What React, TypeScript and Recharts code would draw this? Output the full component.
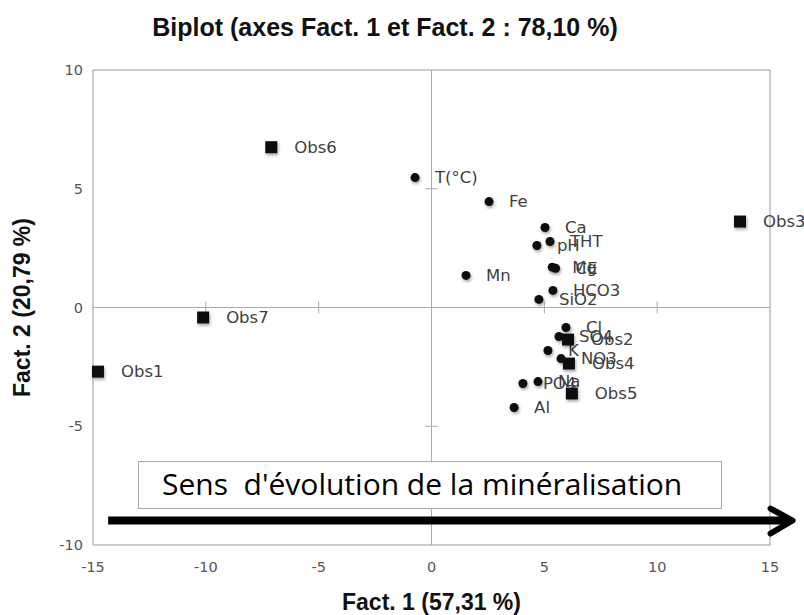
import { ScatterChart, Scatter, XAxis, YAxis, ReferenceLine, Label } from "recharts";

document.body.style.margin = "0";

const obsNames = ["Obs1", "Obs2", "Obs3", "Obs4", "Obs5", "Obs6", "Obs7"];
const obsX = [-14.78, 6.05, 13.67, 6.09, 6.22, -7.1, -10.12];
const obsY = [-2.7, -1.35, 3.62, -2.36, -3.62, 6.75, -0.42];

const varNames = ["T(°C)", "Fe", "Ca", "THT", "pH", "Mg", "CE", "HCO3", "SiO2", "Mn", "Cl", "SO4", "K", "NO3", "PO4", "Na", "Al"];
const varX = [-0.73, 2.55, 5.03, 5.25, 4.67, 5.35, 5.5, 5.38, 4.76, 1.53, 5.96, 5.65, 5.16, 5.74, 4.05, 4.72, 3.66];
const varY = [5.47, 4.46, 3.37, 2.78, 2.61, 1.7, 1.65, 0.72, 0.34, 1.35, -0.84, -1.22, -1.81, -2.15, -3.2, -3.12, -4.21];

const xTicks = [-15, -10, -5, 0, 5, 10, 15];
const yTicks = [-10, -5, 0, 5, 10];
const xMinor = [-10, -5, 5, 10];
const yMinor = [-5, 5];

const obsData = obsNames.map((name, i) => ({ name, x: obsX[i], y: obsY[i] }));
const varData = varNames.map((name, i) => ({ name, x: varX[i], y: varY[i] }));

const labelStyle = { fontFamily: "DejaVu Sans", fontSize: 16.5, fill: "#404040" };
const tickFont = { fontFamily: "DejaVu Sans", fontSize: 14.5, fill: "#555" };

const ObsShape = (props: any) => {
  const { cx, cy, payload } = props;
  return (
    <g>
      <rect x={cx - 6} y={cy - 6} width={12} height={12} fill="#111" filter="url(#shadow)" />
      <text x={cx + 23} y={cy} dominantBaseline="central" style={labelStyle}>{payload.name}</text>
    </g>
  );
};

const VarShape = (props: any) => {
  const { cx, cy, payload } = props;
  return (
    <g>
      <circle cx={cx} cy={cy} r={4.5} fill="#111" filter="url(#shadow)" />
      <text x={cx + 20} y={cy} dominantBaseline="central" style={labelStyle}>{payload.name}</text>
    </g>
  );
};

const XTick = (props: any) => (
  <text x={props.x} y={props.y + 10} textAnchor="middle" dominantBaseline="central" style={tickFont}>
    {props.payload.value}
  </text>
);

const YTick = (props: any) => (
  <text x={props.x + 2} y={props.y} textAnchor="end" dominantBaseline="central" style={tickFont}>
    {props.payload.value}
  </text>
);

const Arrow = (props: any) => {
  const { x1, y1, x2, y2 } = props;
  return (
    <g>
      <line x1={x1} y1={y1} x2={x2 - 6} y2={y2} stroke="#000" strokeWidth={8} />
      <polyline points={`${x2 - 22},${y2 - 12} ${x2},${y2} ${x2 - 22},${y2 + 13}`} fill="none" stroke="#000" strokeWidth={6} strokeLinecap="round" strokeLinejoin="round" />
    </g>
  );
};

const axisTitle = { fontFamily: "Liberation Sans", fontWeight: "bold", fontSize: 23, fill: "#111" };

export default function App() {
  return (
    <div style={{ position: "relative", width: 804, height: 615, background: "#fff", overflow: "hidden" }}>
      <svg width={0} height={0} style={{ position: "absolute" }}>
        <defs>
          <filter id="shadow" x="-100%" y="-100%" width="300%" height="300%">
            <feDropShadow dx="1" dy="2" stdDeviation="1.5" floodColor="#000" floodOpacity="0.35" />
          </filter>
        </defs>
      </svg>
      <div style={{ position: "absolute", left: 0, width: 770, top: 13, textAlign: "center", fontFamily: "Liberation Sans", fontWeight: "bold", fontSize: 25, color: "#111" }}>
        Biplot (axes Fact. 1 et Fact. 2 : 78,10 %)
      </div>
      <ScatterChart width={804} height={615} margin={{ top: 70, right: 34, bottom: 0, left: 0 }}>
        <XAxis type="number" dataKey="x" domain={[-15, 15]} ticks={xTicks} height={70}
          axisLine={{ stroke: "#999" }} tickLine={false} tickMargin={6} tick={XTick}>
          <Label value="Fact. 1 (57,31 %)" position="insideBottom" offset={5} style={axisTitle} />
        </XAxis>
        <YAxis type="number" dataKey="y" domain={[-10, 10]} ticks={yTicks} width={93}
          axisLine={{ stroke: "#999" }} tickLine={false} tickMargin={6} tick={YTick}>
          <Label value="Fact. 2 (20,79 %)" angle={-90} position="insideLeft" offset={22}
            style={{ ...axisTitle, textAnchor: "middle" }} />
        </YAxis>
        <ReferenceLine y={10} stroke="#999" />
        <ReferenceLine x={15} stroke="#999" />
        <ReferenceLine x={0} stroke="#aaa" />
        <ReferenceLine y={0} stroke="#aaa" />
        {xMinor.map((t) => (
          <ReferenceLine key={"xm" + t} segment={[{ x: t, y: -0.25 }, { x: t, y: 0.25 }]} stroke="#aaa" />
        ))}
        {yMinor.map((t) => (
          <ReferenceLine key={"ym" + t} segment={[{ x: -0.27, y: t }, { x: 0.27, y: t }]} stroke="#aaa" />
        ))}
        <Scatter data={varData} shape={VarShape} isAnimationActive={false} />
        <Scatter data={obsData} shape={ObsShape} isAnimationActive={false} />
        <ReferenceLine segment={[{ x: -14.33, y: -8.97 }, { x: 16.0, y: -8.97 }]} ifOverflow="visible" shape={Arrow} />
      </ScatterChart>
      <div style={{ position: "absolute", left: 138, top: 461, width: 582, height: 46, border: "1px solid #aaa", background: "#fff" }}>
        <div style={{ position: "absolute", left: 23, top: 1, fontFamily: "Open Sans", fontSize: 30, color: "#000", whiteSpace: "pre" }}>
          Sens  d'évolution de la minéralisation
        </div>
      </div>
    </div>
  );
}
